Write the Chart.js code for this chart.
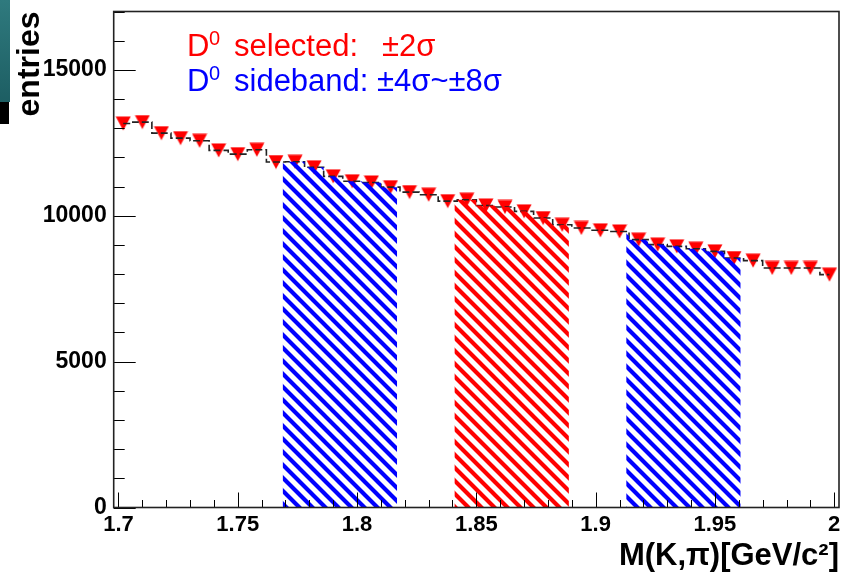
<!DOCTYPE html>
<html>
<head>
<meta charset="utf-8">
<script src="https://cdn.jsdelivr.net/npm/chart.js@4/dist/chart.umd.min.js"></script>
<style>
  html, body { margin: 0; padding: 0; background: #fff; }
  #wrap { position: relative; width: 848px; height: 575px; }
  #edge { position: absolute; left: 0; top: 0; width: 10px; height: 102px; background: linear-gradient(#2f7a7e, #1d5e63); }
  #edge2 { position: absolute; left: 0; top: 102px; width: 9px; height: 22px; background: #000; }
</style>
</head>
<body>
<div id="wrap">
  <canvas id="chartMassa" width="848" height="575"></canvas>
  <div id="edge"></div><div id="edge2"></div>
</div>
<script>
// Histograma M(K,pi): centros dos bins e contagens
const massBins = [1.702, 1.710, 1.718, 1.726, 1.734, 1.742, 1.750, 1.758, 1.766, 1.774,
                  1.782, 1.790, 1.798, 1.806, 1.814, 1.822, 1.830, 1.838, 1.846, 1.854,
                  1.862, 1.870, 1.878, 1.886, 1.894, 1.902, 1.910, 1.918, 1.926, 1.934,
                  1.942, 1.950, 1.958, 1.966, 1.974, 1.982, 1.990, 1.998];
const entries = [13160, 13210, 12830, 12660, 12570, 12240, 12110, 12260, 11840, 11850,
                 11660, 11350, 11180, 11140, 10980, 10810, 10720, 10500, 10550, 10350,
                 10300, 10150, 9920, 9690, 9580, 9500, 9460, 9180, 9010, 8950,
                 8870, 8780, 8550, 8460, 8210, 8210, 8210, 7980];
const binLow = 1.698;
const binWidth = 0.008;

// Regiões: sinal +-2 sigma e sidebands +-4~8 sigma
const selectedBand = [1.8408, 1.8888];
const sidebandLow = [1.7688, 1.8168];
const sidebandHigh = [1.9128, 1.9608];

// Eixos
const xTicks = [1.7, 1.75, 1.8, 1.85, 1.9, 1.95, 2];
const yTicks = [0, 5000, 10000, 15000];
const xRange = [1.698, 2.002];
const yRange = [0, 17000];
const xMinorStep = 0.01;
const yMinorStep = 1000;

function bandPoints(band) {
  const pts = [];
  let i = Math.floor((band[0] - binLow) / binWidth);
  pts.push({ x: band[0], y: entries[i] });
  for (let k = i + 1; binLow + k * binWidth < band[1]; k++) {
    pts.push({ x: binLow + k * binWidth, y: entries[k] });
    i = k;
  }
  pts.push({ x: band[1], y: entries[i] });
  return pts;
}

function hatch(color) {
  const n = 13;
  const c = document.createElement('canvas');
  c.width = n; c.height = n;
  const g = c.getContext('2d');
  g.strokeStyle = color;
  g.lineWidth = 4.2;
  g.beginPath();
  g.moveTo(-2, -2); g.lineTo(n + 2, n + 2);
  g.moveTo(-2, n - 2); g.lineTo(2, n + 2);
  g.moveTo(n - 2, -2); g.lineTo(n + 2, 2);
  g.stroke();
  return g.createPattern(c, 'repeat');
}

// marcador triângulo invertido (estilo ROOT 23)
function downTriangle(color) {
  const c = document.createElement('canvas');
  c.width = 16; c.height = 15;
  const g = c.getContext('2d');
  g.fillStyle = color;
  g.beginPath();
  g.moveTo(0.5, 0.5); g.lineTo(15.5, 0.5); g.lineTo(8, 14.5);
  g.closePath();
  g.fill();
  return c;
}

const histPoints = massBins.map((m, i) => ({ x: m, y: entries[i] }));

function bandDataset(band, color) {
  return {
    type: 'line',
    data: bandPoints(band),
    stepped: true,
    fill: 'origin',
    backgroundColor: hatch(color),
    borderWidth: 0,
    pointRadius: 0
  };
}

// moldura e marcas para dentro, estilo ROOT
const frameTicks = {
  id: 'frameTicks',
  afterDatasetsDraw(chart) {
    const { ctx, chartArea: a, scales } = chart;
    ctx.save();
    ctx.strokeStyle = '#000';
    ctx.lineWidth = 1;
    ctx.beginPath();
    for (let v = yRange[0]; v <= yRange[1]; v += yMinorStep) {
      const y = Math.round(scales.y.getPixelForValue(v)) + 0.5;
      const len = yTicks.includes(v) ? 22 : 11;
      ctx.moveTo(a.left, y); ctx.lineTo(a.left + len, y);
    }
    for (let k = 0; k <= 30; k++) {
      const v = +(1.7 + k * xMinorStep).toFixed(2);
      const x = Math.round(scales.x.getPixelForValue(v)) + 0.5;
      const len = xTicks.includes(v) ? 15 : 7.5;
      ctx.moveTo(x, a.bottom); ctx.lineTo(x, a.bottom - len);
    }
    ctx.stroke();
    ctx.lineWidth = 1.6;
    ctx.strokeStyle = '#222';
    ctx.strokeRect(a.left, a.top, a.right - a.left, a.bottom - a.top);
    ctx.restore();
  }
};

const legendText = {
  id: 'legendText',
  afterDraw(chart) {
    const ctx = chart.ctx;
    ctx.save();
    ctx.textBaseline = 'alphabetic';
    const big = '31px "Liberation Sans", Arial, sans-serif';
    const small = '20px "Liberation Sans", Arial, sans-serif';
    const lines = [
      { color: '#ff0000', y: 56, words: [['selected:', 234], ['\u00b12\u03c3', 382]] },
      { color: '#0000ff', y: 91, words: [['sideband:', 234], ['\u00b14\u03c3~\u00b18\u03c3', 377]] }
    ];
    lines.forEach(l => {
      ctx.fillStyle = l.color;
      ctx.font = big;
      ctx.fillText('D', 187, l.y);
      l.words.forEach(w => ctx.fillText(w[0], w[1], l.y));
      ctx.font = small;
      ctx.fillText('0', 209, l.y - 11);
    });
    ctx.restore();
  }
};

const ctxMassa = document.getElementById('chartMassa').getContext('2d');
new Chart(ctxMassa, {
  data: {
    datasets: [
      bandDataset(sidebandLow, '#0000ff'),
      bandDataset(selectedBand, '#ff0000'),
      bandDataset(sidebandHigh, '#0000ff'),
      {
        type: 'line',
        data: histPoints,
        stepped: 'middle',
        borderColor: '#222',
        borderWidth: 1.6,
        borderDash: [7, 3],
        fill: false,
        pointRadius: 0
      },
      {
        type: 'line',
        data: histPoints,
        showLine: false,
        pointStyle: downTriangle('#ff0000'),
        pointRadius: 8
      }
    ]
  },
  options: {
    responsive: false,
    animation: false,
    layout: { padding: { left: 0, top: 11.5, right: 3.3, bottom: 0 } },
    plugins: {
      legend: { display: false },
      tooltip: { enabled: false }
    },
    scales: {
      x: {
        type: 'linear',
        min: xRange[0],
        max: xRange[1],
        afterBuildTicks: s => { s.ticks = xTicks.map(v => ({ value: v })); },
        afterFit: s => { s.height = 67.5; s.paddingLeft = 0; s.paddingRight = 0; },
        grid: { display: false, drawTicks: false },
        border: { display: false },
        ticks: {
          padding: 4,
          autoSkip: false,
          maxRotation: 0,
          color: '#000',
          font: { family: '"Liberation Sans", Arial, sans-serif', size: 22, weight: 'bold' },
          callback: v => String(v)
        },
        title: {
          display: true,
          text: 'M(K,\u03c0)[GeV/c\u00b2]',
          align: 'end',
          color: '#000',
          padding: { top: 0, bottom: 0 },
          font: { family: '"Liberation Sans", Arial, sans-serif', size: 31, weight: 'bold' }
        }
      },
      y: {
        type: 'linear',
        min: yRange[0],
        max: yRange[1],
        afterBuildTicks: s => { s.ticks = yTicks.map(v => ({ value: v })); },
        afterFit: s => { s.width = 113.7; s.paddingTop = 0; s.paddingBottom = 0; },
        grid: { display: false, drawTicks: false },
        border: { display: false },
        ticks: {
          padding: 7,
          color: '#000',
          font: { family: '"Liberation Sans", Arial, sans-serif', size: 23, weight: 'bold' },
          callback: v => String(v)
        },
        title: {
          display: true,
          text: 'entries',
          align: 'end',
          color: '#000',
          padding: { top: 11, bottom: 0 },
          font: { family: '"Liberation Sans", Arial, sans-serif', size: 32, weight: 'bold' }
        }
      }
    }
  },
  plugins: [frameTicks, legendText]
});
</script>
</body>
</html>
